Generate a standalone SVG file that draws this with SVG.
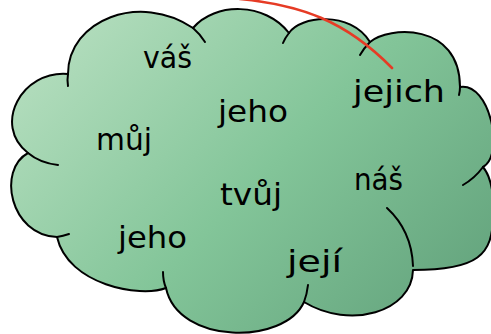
<svg xmlns="http://www.w3.org/2000/svg" width="491" height="334" viewBox="0 0 491 334">
  <defs>
    <linearGradient id="cloudFill" gradientUnits="userSpaceOnUse" x1="110" y1="10" x2="430" y2="320">
      <stop offset="0" stop-color="#afdbba"/>
      <stop offset="0.5" stop-color="#83c599"/>
      <stop offset="1" stop-color="#66a67f"/>
    </linearGradient>
  </defs>
  <style>
    .outline { fill: url(#cloudFill); stroke: #000; stroke-width: 2; stroke-linejoin: round; }
    .tail { fill: none; stroke: #000; stroke-width: 2; stroke-linecap: round; }
    .word { font-family: "DejaVu Sans", "Liberation Sans", sans-serif; font-size: 31px; fill: #000; }
    .link { fill: none; stroke: #e63b25; stroke-width: 2.6; stroke-linecap: round; }
  </style>

  <g id="cloud">
    <path class="outline" d="M68,74
      C68,20 140,-8 193,28
      C215,2 265,2 289,33
      C300,16 350,10 370,42
      C388,26 460,22 460,87
      C490,82 505,155 483,167
      C492,178 494,195 493,215
      C493,255 478,270 413,270
      C412,312 350,330 304,302
      C285,345 178,345 166,288
      C140,298 68,285 57,237
      C10,235 -3,170 28,153
      C-8,125 22,70 68,74 Z"/>
    <path class="tail" d="M68,74 Q67,80 68,86"/>
    <path class="tail" d="M193,28 Q200,34 205,42"/>
    <path class="tail" d="M289,33 Q285,38 283,43"/>
    <path class="tail" d="M370,42 Q364,48 360,55"/>
    <path class="tail" d="M460,87 Q460,91 459,95"/>
    <path class="tail" d="M483,167 Q475,178 463,185"/>
    <path class="tail" d="M387,208 C400,220 412,238 413,266"/>
    <path class="tail" d="M304,302 Q307,294 308,285"/>
    <path class="tail" d="M166,288 Q163,281 163,272"/>
    <path class="tail" d="M57,237 Q63,236 69,234"/>
    <path class="tail" d="M28,153 Q40,163 58,165"/>
  </g>

  <g id="connectors">
    <path class="link" d="M240,-1 C300,5 345,20 392,68"/>
  </g>

  <g id="node-vas"><text class="word" x="143" y="68" textLength="49" lengthAdjust="spacingAndGlyphs">váš</text></g>
  <g id="node-jeho-top"><text class="word" x="218" y="122" textLength="70" lengthAdjust="spacingAndGlyphs">jeho</text></g>
  <g id="node-jejich"><text class="word" x="353" y="102" textLength="92" lengthAdjust="spacingAndGlyphs">jejich</text></g>
  <g id="node-muj"><text class="word" x="96" y="150" textLength="56" lengthAdjust="spacingAndGlyphs">můj</text></g>
  <g id="node-tvuj"><text class="word" x="220" y="205" textLength="62" lengthAdjust="spacingAndGlyphs">tvůj</text></g>
  <g id="node-nas"><text class="word" x="354" y="190" textLength="49" lengthAdjust="spacingAndGlyphs">náš</text></g>
  <g id="node-jeho-bottom"><text class="word" x="118" y="248" textLength="69" lengthAdjust="spacingAndGlyphs">jeho</text></g>
  <g id="node-jeji"><text class="word" x="287" y="272" textLength="55" lengthAdjust="spacingAndGlyphs">její</text></g>
</svg>
